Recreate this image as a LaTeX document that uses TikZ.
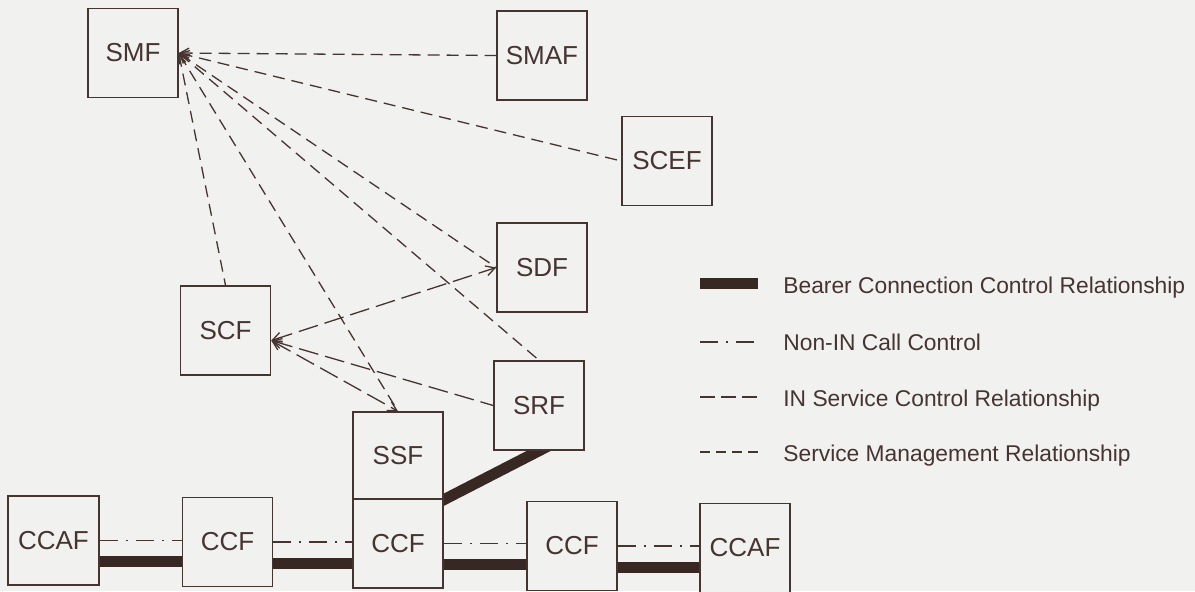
\documentclass[tikz,border=0pt]{standalone}
\usepackage{fontspec}
\setmainfont{Liberation Sans}
\usetikzlibrary{arrows.meta,calc}
\definecolor{paper}{RGB}{241,241,239}
\definecolor{ink}{RGB}{70,52,48}
\definecolor{thickink}{RGB}{55,40,36}
\pgfdeclarelayer{back}
\pgfsetlayers{back,main}
\begin{document}
\begin{tikzpicture}[x=0.5pt,y=-0.5pt,
  >={Straight Barb[length=4.5pt,width=5pt]},
  box/.style={draw=ink,line width=0.75pt,fill=paper,minimum width=45pt,minimum height=44.5pt,
    inner sep=0pt,text=ink,font=\fontsize{13}{15}\selectfont},
  smgmt/.style={draw=ink,line width=0.65pt,dash pattern=on 6pt off 3.5pt},
  inctl/.style={draw=ink,line width=0.65pt,dash pattern=on 10pt off 3.5pt},
  nonin/.style={draw=ink,line width=0.65pt,dash pattern=on 9pt off 4pt on 1pt off 4pt},
  bearer/.style={draw=thickink,line width=5.5pt,line cap=butt},
  legtext/.style={anchor=base west,inner sep=0pt,text=ink,font=\fontsize{11.4}{13}\selectfont}]
\useasboundingbox (0,0) rectangle (1195,591);
\clip (0,0) rectangle (1195,591);
% boxes
\node[box] (SMF) at (133,53) {SMF};
\node[box] (SMAF) at (542,55.5) {SMAF};
\node[box] (SCEF) at (667,161) {SCEF};
\node[box] (SDF) at (542,267.5) {SDF};
\node[box] (SCF) at (225.5,330.5) {SCF};
\node[box] (SRF) at (539,405.5) {SRF};
\node[box,minimum height=43.5pt] (SSF) at (398,455.5) {SSF};
\node[box] (CCF2) at (398,543.5) {CCF};
\node[box,minimum width=45.5pt] (CCAF1) at (53.5,540.5) {CCAF};
\node[box] (CCF1) at (227.5,542) {CCF};
\node[box] (CCF3) at (572,546) {CCF};
\node[box] (CCAF2) at (745,548) {CCAF};
% legend
\coordinate (l1a) at (700,283); \coordinate (l1b) at (758,283);
\coordinate (l2a) at (700,342); \coordinate (l2b) at (758,342);
\coordinate (l3a) at (700,397); \coordinate (l3b) at (758,397);
\coordinate (l4a) at (700,452); \coordinate (l4b) at (758,452);
\node[legtext] (t1) at (783,293) {Bearer Connection Control Relationship};
\node[legtext] (t2) at (783,350) {Non-IN Call Control};
\node[legtext] (t3) at (783,406) {IN Service Control Relationship};
\node[legtext] (t4) at (783,461) {Service Management Relationship};
% helper coordinates
\coordinate (scfE) at ($(SCF.east)+(0,10)$);
\coordinate (b1) at ($(CCAF1.east)+(0,21)$);
\coordinate (b2) at ($(CCF1.east)+(0,21)$);
\coordinate (b3) at ($(CCF2.east)+(0,21)$);
\coordinate (b4) at ($(CCF3.east)+(0,21)$);
\begin{pgfonlayer}{back}
\fill[paper] (0,0) rectangle (1195,591);
% service management
\draw[smgmt,<-] (SMF.east) -- (SMAF.west);
\draw[smgmt,<-] (SMF.east) -- (SCEF.west);
\draw[smgmt,<-] (SMF.east) -- (SDF.west);
\draw[smgmt,<-] (SMF.east) -- (SRF.north);
\draw[smgmt,<-] (SMF.east) -- (SSF.north);
\draw[smgmt,<-] (SMF.east) -- (SCF.north);
% IN service control
\draw[inctl,<->] (scfE) -- (SDF.west);
\draw[inctl,<-] (scfE) -- (SRF.west);
\draw[inctl,<->] (scfE) -- (SSF.north);
% non-IN call control
\draw[nonin] (CCAF1.east) -- (CCAF1.east -| CCF1.west);
\draw[nonin] (CCF1.east) -- (CCF1.east -| CCF2.west);
\draw[nonin] (CCF2.east) -- (CCF2.east -| CCF3.west);
\draw[nonin] (CCF3.east) -- (CCF3.east -| CCAF2.west);
% bearer
\draw[bearer] (b1) -- (b1 -| CCF1.west);
\draw[bearer] (b2) -- (b2 -| CCF2.west);
\draw[bearer] (b3) -- (b3 -| CCF3.west);
\draw[bearer] (b4) -- (b4 -| CCAF2.west);
\draw[bearer,shorten <=-6pt,shorten >=-6pt] (SRF.south) -- (SSF.south east);
% legend symbols
\draw[bearer] (l1a) -- (l1b);
\draw[nonin] (l2a) -- (l2b);
\draw[inctl,dash pattern=on 7.5pt off 3pt] (l3a) -- (l3b);
\draw[smgmt,dash pattern=on 5pt off 3pt] (l4a) -- (l4b);
\end{pgfonlayer}
\end{tikzpicture}
\end{document}
